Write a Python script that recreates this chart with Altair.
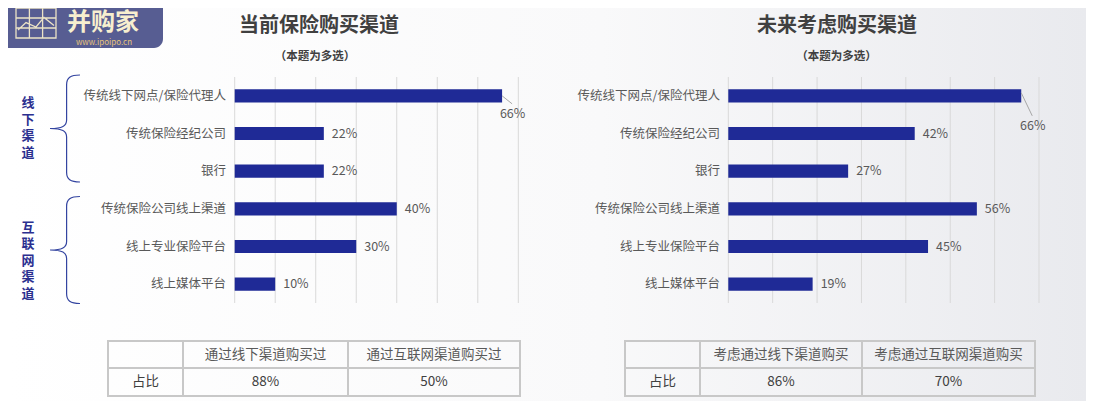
import altair as alt
import pandas as pd

# ---------------- data ----------------
categories = ["传统线下网点/保险代理人", "传统保险经纪公司", "银行",
              "传统保险公司线上渠道", "线上专业保险平台", "线上媒体平台"]
current_pct = [66, 22, 22, 40, 30, 10]
future_pct = [66, 42, 27, 56, 45, 19]
grid_ticks = [0, 10, 20, 30, 40, 50, 60, 70]

left_title = "当前保险购买渠道"
right_title = "未来考虑购买渠道"
subtitle = "（本题为多选）"
group_labels = ["线\n下\n渠\n道", "互\n联\n网\n渠\n道"]
row_label = "占比"
left_table_header = ["通过线下渠道购买过", "通过互联网渠道购买过"]
left_table_values = ["88%", "50%"]
right_table_header = ["考虑通过线下渠道购买", "考虑通过互联网渠道购买"]
right_table_values = ["86%", "70%"]
logo_name = "并购家"
logo_url = "www.ipoipo.cn"

# ---------------- style ----------------
FONT = "Noto Sans CJK SC"
BAR = "#1f2a96"
TXT = "#595959"
DARK = "#404040"
GRID = "#d9d9d9"
W, H = 1078, 393
Y0, Y1 = 69, 295
LH = 16.5

one = pd.DataFrame({"_": [0]})
df_ticks = pd.DataFrame({"t": grid_ticks})

yscale = alt.Scale(domain=categories, range=[Y0, Y1], paddingInner=0.65, paddingOuter=0.325)
Y = alt.Y("cat:N", scale=yscale, axis=None)


def txt(s, x, y, size=12, color=TXT, weight="normal", align="center", **kw):
    return alt.Chart(one).mark_text(font=FONT, fontSize=size, color=color, fontWeight=weight,
                                    align=align, baseline="middle", **kw).encode(
        x=alt.value(x), y=alt.value(y), text=alt.value(s))


def panel(values, x0, x1, label_x, big_dx, big_dy, lead_y0, lead_dx, lead_dy):
    df = pd.DataFrame({"cat": categories, "v": values})
    xs = alt.Scale(domain=[0, 70], range=[x0, x1], nice=False, zero=True)
    X = alt.X("v:Q", scale=xs, axis=None)
    grid = alt.Chart(df_ticks).mark_rule(color=GRID, strokeWidth=1).encode(
        x=alt.X("t:Q", scale=xs, axis=None), y=alt.value(Y0), y2=alt.value(Y1))
    bars = alt.Chart(df).mark_bar(color=BAR).encode(x=X, y=Y)
    base = alt.Chart(df).transform_joinaggregate(m="max(v)").transform_calculate(
        lbl="datum.v + '%'")
    labels = base.transform_filter("datum.v < datum.m").mark_text(
        align="left", baseline="middle", dx=8, font=FONT, fontSize=12.5, color=TXT).encode(
        x=X, y=Y, text="lbl:N")
    big = base.transform_filter("datum.v == datum.m").mark_text(
        align="center", baseline="middle", dx=big_dx, dy=big_dy, font=FONT, fontSize=12.5,
        color=TXT).encode(x=X, y=Y, text="lbl:N")
    leader = base.transform_filter("datum.v == datum.m").mark_rule(
        color="#a6a6a6", strokeWidth=1, yOffset=lead_y0, x2Offset=lead_dx,
        y2Offset=lead_y0 + lead_dy).encode(x=X, x2="v:Q", y=Y, y2="cat:N")
    cats = alt.Chart(df).mark_text(align="right", baseline="middle", font=FONT,
                                   fontSize=12.5, color=TXT).encode(
        x=alt.value(label_x), y=Y, text="cat:N")
    return [grid, bars, labels, leader, big, cats]


def table(x0, c1, c2, x1, header, values):
    ya, yb, yc = 333, 360, 388
    layers = []
    layers.append(alt.Chart(one).mark_rect(fillOpacity=0, stroke="#c8c8c8", strokeWidth=2).encode(
        x=alt.value(x0), x2=alt.value(x1), y=alt.value(ya), y2=alt.value(yc)))
    layers.append(alt.Chart(one).mark_rule(color="#c8c8c8", strokeWidth=2).encode(
        x=alt.value(x0), x2=alt.value(x1), y=alt.value(yb), y2=alt.value(yb)))
    for cx in (c1, c2):
        layers.append(alt.Chart(one).mark_rule(color="#c8c8c8", strokeWidth=2).encode(
            x=alt.value(cx), x2=alt.value(cx), y=alt.value(ya), y2=alt.value(yc)))
    ry1 = (ya + yb) / 2
    ry2 = (yb + yc) / 2
    layers.append(txt(row_label, (x0 + c1) / 2, ry2, size=13.5, color=DARK))
    layers.append(txt(header[0], (c1 + c2) / 2, ry1, size=13.5, color=TXT))
    layers.append(txt(header[1], (c2 + x1) / 2, ry1, size=13.5, color=TXT))
    layers.append(txt(values[0], (c1 + c2) / 2, ry2, size=13.5, color=DARK))
    layers.append(txt(values[1], (c2 + x1) / 2, ry2, size=13.5, color=DARK))
    return layers


bg = alt.Chart(one).mark_rect(color=alt.LinearGradient(
    gradient="linear", x1=0, x2=1, y1=0, y2=0,
    stops=[alt.GradientStop(color="#ffffff", offset=0),
           alt.GradientStop(color="#f9f9fa", offset=0.55),
           alt.GradientStop(color="#e9eaee", offset=1)])).encode(
    x=alt.value(0), x2=alt.value(W), y=alt.value(0), y2=alt.value(H))

# logo
logo_bg = alt.Chart(one).mark_rect(color="#575d92", cornerRadius=9).encode(
    x=alt.value(-10), x2=alt.value(155), y=alt.value(-10), y2=alt.value(40))
icon_path = ("M-1,-0.75H1V0.75H-1Z M-0.33,-0.75V0.75 M0.33,-0.75V0.75 "
             "M-1,-0.25H1 M-1,0.25H1 M-0.9,0.35 L-0.5,-0.02 L0,0.2 L0.4,-0.28 L0.9,0.12")
logo_icon = alt.Chart(one).mark_point(shape=icon_path, size=1600, filled=False,
                                      color="#ece3c6", strokeWidth=1.3, opacity=1).encode(
    x=alt.value(28), y=alt.value(15))
logo_t1 = txt(logo_name, 95, 15, size=24, color="#f7efcf", weight="bold")
logo_t2 = txt(logo_url, 96, 34.5, size=8, color="#e6c47a")

# braces + group labels
brace_path = ("M0.28,-1 C0.1,-1 0.03,-0.95 0.03,-0.82 L0.03,-0.16 C0.03,-0.05 -0.05,0 -0.28,0 "
              "C-0.05,0 0.03,0.05 0.03,0.16 L0.03,0.82 C0.03,0.95 0.1,1 0.28,1")
braces = [alt.Chart(one).mark_point(shape=brace_path, size=107 ** 2, filled=False,
                                    color="#3344a0", strokeWidth=1.2, opacity=1).encode(
    x=alt.value(57), y=alt.value(cy)) for cy in (120.5, 242)]
groups = []
for s, cy in zip(group_labels, (120, 252.5)):
    n = s.count("\n")
    groups.append(alt.Chart(one).mark_text(
        font=FONT, fontSize=13, fontWeight="bold", color="#2b2f8f", align="center",
        baseline="middle", lineBreak="\n", lineHeight=LH).encode(
        x=alt.value(20), y=alt.value(cy - n * LH / 2), text=alt.value(s)))

titles = [
    txt(left_title, 311, 18, size=20, color=DARK, weight="bold"),
    txt(subtitle, 307, 48.5, size=11.5, color=DARK, weight="bold"),
    txt(right_title, 829, 18, size=20, color=DARK, weight="bold"),
    txt(subtitle, 828.5, 48.5, size=11.5, color=DARK, weight="bold"),
]

layers = [bg, logo_bg, logo_icon, logo_t1, logo_t2] + titles + braces + groups
layers += panel(current_pct, 226.7, 510.3, 218, 10.5, 18, 0, 10, 8)
layers += panel(future_pct, 720.3, 1031, 712, 11.5, 30, -3, 11, 23)
layers += table(100, 175, 340, 512, left_table_header, left_table_values)
layers += table(617, 692, 854, 1027, right_table_header, right_table_values)

chart = alt.layer(*layers).resolve_scale(x="independent").properties(
    width=W, height=H, padding=0, autosize=alt.AutoSizeParams(type="none"),
    background="#ffffff").configure_view(stroke=None)

chart.save("out.html", embed_options={"renderer": "svg", "actions": False})
